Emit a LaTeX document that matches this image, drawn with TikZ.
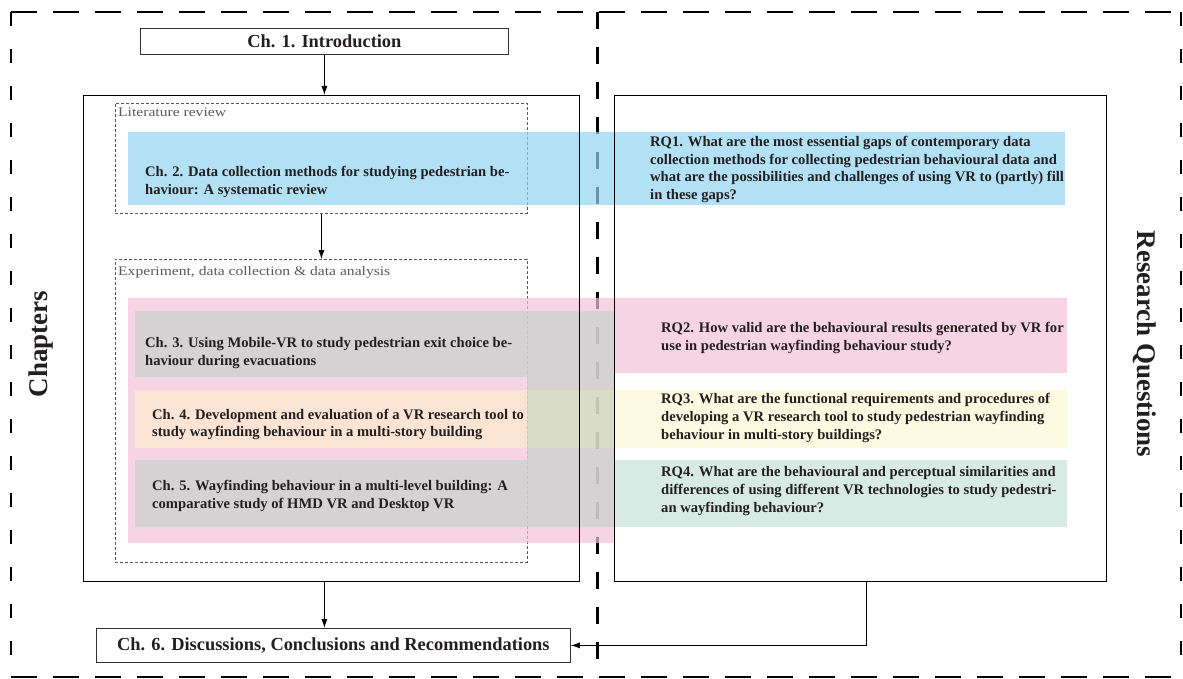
\documentclass[tikz,border=0pt]{standalone}
\usepackage{fontspec}
\setmainfont{Liberation Serif}
\newfontfamily\widefont[FakeStretch=1.2]{Liberation Serif}
\usetikzlibrary{arrows.meta,positioning}
\definecolor{bandblue}{HTML}{92D4F2}
\definecolor{bandpink}{HTML}{F4C2D8}
\definecolor{bandgray}{HTML}{C8D0CC}
\definecolor{bandpeach}{HTML}{FEEBCD}
\definecolor{bandyellow}{HTML}{FBF8D3}
\definecolor{bandteal}{HTML}{C7E1D8}
\definecolor{bandgreen}{HTML}{CCDFB9}
\definecolor{inkc}{HTML}{231F20}
\tikzset{
  mainbox/.style={draw, line width=1.3pt, inner sep=0pt, anchor=north west},
  groupbox/.style={draw=black!65, dash pattern=on 3pt off 2pt, line width=0.9pt, inner sep=0pt, anchor=north west},
  band/.style={fill opacity=0.7, inner sep=0pt, outer sep=0pt, anchor=north west},
  txt/.style={anchor=west, align=left, inner sep=0pt, text=inkc, font=\fontsize{14.6}{17.8}\selectfont\bfseries},
  grouplabel/.style={anchor=west, inner sep=0pt, text=black!65, font=\widefont\fontsize{13}{14}\selectfont},
  endbox/.style={draw=black!80, line width=0.8pt, anchor=north west, inner sep=0pt, text=inkc, font=\fontsize{18.4}{20}\selectfont\bfseries},
  sidetitle/.style={inner sep=0pt, text=inkc, font=\fontsize{27}{29}\selectfont\bfseries},
  arr/.style={-{Latex[length=9pt,width=6pt]}, line width=0.8pt},
}
\begin{document}
\begin{tikzpicture}[x=1pt, y=-1pt]
    \useasboundingbox (0,0) rectangle (1183,679);
    % Frame and divider
    \draw[line width=1.3pt, dash pattern=on 26pt off 16pt] (11,12) -- (1181,12) (11,677) -- (1181,677);
    \draw[line width=1.3pt, dash pattern=on 14pt off 23pt] (11,12) -- (11,677) (1181,12) -- (1181,677);
    \draw[line width=3pt, dash pattern=on 17pt off 18pt] (597,12) -- (597,677);

    % Groups
    \node[groupbox, minimum width=412pt, minimum height=110pt] (lit) at (115,103) {};
    \node[groupbox, minimum width=412pt, minimum height=303pt] (exp) at (115,259) {};
    \node[grouplabel] (litlabel) at (118,112) {Literature review};
    \node[grouplabel] (explabel) at (118,272) {Experiment, data collection \& data analysis};

    % Colour bands
    \node[band, fill=bandblue, minimum width=937pt, minimum height=73pt] (band1) at (128,132) {};
    \node[band, fill=bandpink, minimum width=487pt, minimum height=245pt] (bandexp) at (128,298) {};
    \node[band, fill=bandpink, minimum width=452pt, minimum height=75pt] (band2) at (615,298) {};
    \node[band, fill=bandgray, minimum width=392pt, minimum height=66pt] (band3) at (135,311) {};
    \node[band, fill=bandpeach, minimum width=392pt, minimum height=58pt] (band4) at (135,390) {};
    \node[band, fill=bandgray, minimum width=392pt, minimum height=67pt] (band5) at (135,460) {};
    \node[band, fill=bandgray, minimum width=88pt, minimum height=79pt] (strip1) at (527,311) {};
    \node[band, fill=bandgreen, minimum width=88pt, minimum height=58pt] (strip2) at (527,390) {};
    \node[band, fill=bandgray, minimum width=88pt, minimum height=79pt] (strip3) at (527,448) {};
    \node[band, fill=bandyellow, minimum width=452pt, minimum height=58pt] (bandrq3) at (615,390) {};
    \node[band, fill=bandteal, minimum width=452pt, minimum height=67pt] (bandrq4) at (615,460) {};

    % Main boxes
    \node[mainbox, minimum width=496pt, minimum height=486pt] (chap) at (83,95) {};
    \node[mainbox, minimum width=492pt, minimum height=486pt] (rq) at (614,95) {};
    \node[endbox, minimum width=368pt, minimum height=26pt] (intro) at (140,28) {Ch. 1. Introduction};
    \node[endbox, minimum width=474pt, minimum height=34pt] (concl) at (96,628) {Ch. 6. Discussions, Conclusions and Recommendations};

    \node[sidetitle, rotate=90] (chaptitle) at (41,344) {Chapters};
    \node[sidetitle, rotate=-90] (rqtitle) at (1145,344) {Research Questions};

    % Chapters
    \node[txt] (ch2) at (145,182) {Ch. 2. Data collection methods for studying pedestrian be-\\haviour: A systematic review};
    \node[txt] (ch3) at (145,353) {Ch. 3. Using Mobile-VR to study pedestrian exit choice be-\\haviour during evacuations};
    \node[txt] (ch4) at (152,424.5) {Ch. 4. Development and evaluation of a VR research tool to\\study wayfinding behaviour in a multi-story building};
    \node[txt] (ch5) at (152,496) {Ch. 5. Wayfinding behaviour in a multi-level building: A\\comparative study of HMD VR and Desktop VR};
    % Research questions
    \node[txt] (rq1) at (650,169.5) {RQ1. What are the most essential gaps of contemporary data\\collection methods for collecting pedestrian behavioural data and\\what are the possibilities and challenges of using VR to (partly) fill\\in these gaps?};
    \node[txt] (rq2) at (661,338) {RQ2. How valid are the behavioural results generated by VR for\\use in pedestrian wayfinding behaviour study?};
    \node[txt] (rq3) at (661,418) {RQ3. What are the functional requirements and procedures of\\developing a VR research tool to study pedestrian wayfinding\\behaviour in multi-story buildings?};
    \node[txt] (rq4) at (661,491) {RQ4. What are the behavioural and perceptual similarities and\\differences of using different VR technologies to study pedestri-\\an wayfinding behaviour?};

    % Flow
    \draw[arr] (intro.south) -- (intro.south |- chap.north);
    \draw[arr] (lit.south) -- (exp.north);
    \draw[arr] (intro.south |- chap.south) -- (intro.south |- concl.north);
    \draw[arr] ([xshift=6pt]rq.south) |- (concl.east);
\end{tikzpicture}
\end{document}
